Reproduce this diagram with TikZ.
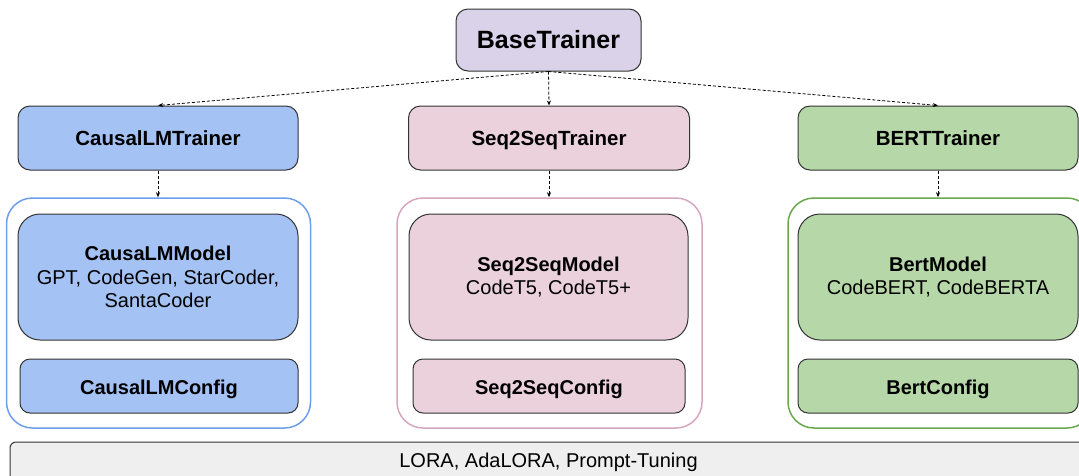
\documentclass[tikz,border=0pt]{standalone}
\usepackage{fontspec}
\setmainfont{Liberation Sans}
\usepackage{xcolor}
\usepackage{tikz}
\usetikzlibrary{positioning,calc,arrows.meta}

\definecolor{basefill}{HTML}{D9D2E9}
\definecolor{causalfill}{HTML}{A4C2F4}
\definecolor{causalline}{HTML}{6D9EEB}
\definecolor{seqfill}{HTML}{EAD1DC}
\definecolor{seqline}{HTML}{D5A6BD}
\definecolor{bertfill}{HTML}{B6D7A8}
\definecolor{bertline}{HTML}{6AA84F}
\definecolor{peftfill}{HTML}{EFEFEF}

\begin{document}
\begin{tikzpicture}[x=1pt, y=-1pt,
    box/.style={draw=black!80, line width=1pt, rectangle, rounded corners=12pt, align=center, inner sep=0pt, font=\fontsize{20}{23.5}\selectfont},
    trainer box/.style={box, minimum width=280pt, minimum height=64pt, text height=19pt, text depth=4pt, font=\fontsize{20.5}{24}\selectfont\bfseries},
    model box/.style={box, minimum width=280pt, minimum height=126pt, rounded corners=22pt},
    config box/.style={box, minimum width=278pt, minimum height=54pt, rounded corners=10pt, text height=21.5pt, text depth=4pt, font=\fontsize{20}{24}\selectfont\bfseries},
    group box/.style={draw, line width=1.5pt, rectangle, rounded corners=26pt, minimum width=304pt, minimum height=230pt, inner sep=0pt},
    inherit/.style={-{Stealth[length=5pt,width=4pt]}, dash pattern=on 3pt off 2pt, line width=0.8pt}]
    \useasboundingbox (0,0) rectangle (1079,475);
    \clip (0,0) rectangle (1079,475);

    % Base class
    \node[box, fill=basefill, minimum width=185pt, minimum height=62pt, font=\fontsize{25}{30}\selectfont\bfseries] (base) at (548.5,40) {BaseTrainer};

    % Trainers
    \node[trainer box, fill=causalfill] (causaltrainer) at (158,138) {CausalLMTrainer};
    \node[trainer box, fill=seqfill, minimum width=281pt] (seqtrainer) at (549,138) {Seq2SeqTrainer};
    \node[trainer box, fill=bertfill] (berttrainer) at (938,138) {BERTTrainer};

    % Groups of model + config
    \node[group box, draw=causalline] (causalgroup) at (158.5,313) {};
    \node[group box, draw=seqline, minimum width=305pt] (seqgroup) at (549.5,313) {};
    \node[group box, draw=bertline, minimum width=305pt] (bertgroup) at (940.5,313) {};

    % Models
    \node[model box, fill=causalfill] (causalmodel) at (158,277) {{\bfseries CausaLMModel}\\GPT, CodeGen, StarCoder,\\SantaCoder};
    \node[model box, fill=seqfill, minimum width=279pt] (seqmodel) at (548.5,277) {{\bfseries Seq2SeqModel}\\CodeT5, CodeT5+};
    \node[model box, fill=bertfill] (bertmodel) at (938,277) {{\bfseries BertModel}\\CodeBERT, CodeBERTA};

    % Configs
    \node[config box, fill=causalfill] (causalconfig) at (159,386) {CausalLMConfig};
    \node[config box, fill=seqfill, minimum width=272pt] (seqconfig) at (549,386) {Seq2SeqConfig};
    \node[config box, fill=bertfill, minimum width=280pt] (bertconfig) at (938,386) {BertConfig};

    % Shared tuning methods
    \node[box, fill=peftfill, rounded corners=6pt, minimum width=1077pt, minimum height=40pt] (peft) at (548.5,462) {LORA, AdaLORA, Prompt-Tuning};

    % Inheritance
    \draw[inherit] (base.south) -- (causaltrainer.north);
    \draw[inherit] (base.south) -- (seqtrainer.north);
    \draw[inherit] (base.south) -- (berttrainer.north);
    \draw[inherit] (causaltrainer.south) -- (causaltrainer.south |- causalgroup.north);
    \draw[inherit] (seqtrainer.south) -- (seqtrainer.south |- seqgroup.north);
    \draw[inherit] (berttrainer.south) -- (berttrainer.south |- bertgroup.north);

\end{tikzpicture}
\end{document}
